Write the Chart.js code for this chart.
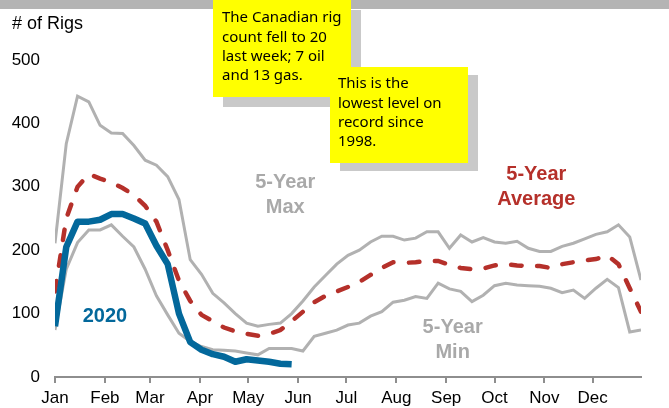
<!DOCTYPE html>
<html>
<head>
<meta charset="utf-8">
<script src="https://cdn.jsdelivr.net/npm/chart.js@4/dist/chart.umd.min.js"></script>
<style>
  html, body { margin: 0; padding: 0; background: #ffffff; }
  canvas { display: block; }
</style>
</head>
<body>
<canvas id="rigs" width="669" height="408"></canvas>
<script>
// Canadian rig count, weekly (Jan through Dec)
const monthLabels = ['Jan', 'Feb', 'Mar', 'Apr', 'May', 'Jun', 'Jul', 'Aug', 'Sep', 'Oct', 'Nov', 'Dec'];
const monthStartDays = [0, 31, 59, 90, 120, 151, 181, 212, 243, 273, 304, 334];
const yTickValues = [0, 100, 200, 300, 400, 500];

const fiveYearMax = [211, 368, 443, 434, 397, 385, 384, 365, 342, 334, 316, 280, 185, 162, 132, 117, 100, 85, 80, 83,
  85, 100, 120, 142, 160, 178, 192, 200, 213, 222, 222, 216, 219, 229, 229, 203, 224, 213, 220, 213,
  211, 214, 203, 198, 198, 206, 211, 218, 225, 229, 240, 221, 153];

const fiveYearMin = [74, 170, 212, 232, 232, 240, 222, 205, 170, 128, 98, 69, 56, 48, 43, 42, 41, 38, 35, 45,
  45, 45, 41, 64, 69, 74, 82, 85, 96, 103, 118, 121, 127, 124, 148, 139, 135, 119, 129, 144,
  148, 145, 144, 143, 140, 133, 137, 124, 140, 154, 141, 71, 74];

const fiveYearAvg = [135, 250, 300, 320, 313, 307, 298, 287, 270, 245, 200, 152, 120, 98, 88, 78, 72, 68, 65, 68,
  74, 88, 103, 118, 128, 135, 142, 150, 161, 172, 181, 180, 181, 183, 183, 177, 172, 170, 171, 176,
  178, 176, 175, 175, 172, 178, 181, 184, 186, 192, 178, 140, 103];

const rigs2020 = [80, 205, 245, 245, 248, 257, 257, 250, 242, 207, 178, 100, 55, 43, 36, 32, 24, 28, 26, 24, 21, 20];

const noteOne = ['The Canadian rig', 'count fell to 20', 'last week; 7 oil', 'and 13 gas.'];
const noteTwo = ['This is the', 'lowest level on', 'record since', '1998.'];

// weekly points sit 7 days apart starting on Jan 1
const toPoints = arr => arr.map((v, i) => ({ x: i * 7, y: v }));

const GRAY = '#b1b1b1';
const RED = '#b5302a';
const BLUE = '#03689b';
const LABEL_GRAY = '#a9a9a9';

const decorations = {
  id: 'decorations',
  beforeDraw(chart) {
    const ctx = chart.ctx;
    ctx.save();
    ctx.fillStyle = '#ffffff';
    ctx.fillRect(0, 0, chart.width, chart.height);
    // header band
    ctx.fillStyle = '#b4b4b4';
    ctx.fillRect(0, 0, chart.width, 9);
    // axis caption
    ctx.fillStyle = '#000000';
    ctx.font = '18px "Liberation Sans", Arial, sans-serif';
    ctx.textBaseline = 'middle';
    ctx.textAlign = 'left';
    ctx.fillText('# of Rigs', 12, 24);
    ctx.restore();
  },
  afterDatasetsDraw(chart) {
    const ctx = chart.ctx;
    const xs = chart.scales.x, ys = chart.scales.y;
    ctx.save();

    // series labels placed in data coordinates
    const seriesLabel = (lines, day, value, color) => {
      const cx = xs.getPixelForValue(day);
      const cy = ys.getPixelForValue(value);
      ctx.fillStyle = color;
      ctx.font = 'bold 20px "Liberation Sans", Arial, sans-serif';
      ctx.textAlign = 'center';
      ctx.textBaseline = 'middle';
      const lh = 25;
      const start = cy - (lines.length - 1) * lh / 2;
      lines.forEach((t, k) => ctx.fillText(t, cx, start + k * lh));
    };
    seriesLabel(['5-Year', 'Max'], 143, 287, LABEL_GRAY);
    seriesLabel(['5-Year', 'Average'], 299, 299, RED);
    seriesLabel(['5-Year', 'Min'], 247, 58, LABEL_GRAY);
    seriesLabel(['2020'], 31, 95, BLUE);

    // call-out notes
    const note = (lines, x, y, w, h, dx, dy, textX, firstY) => {
      ctx.fillStyle = '#c9c9c9';
      ctx.fillRect(x + dx, y + dy, w, h);
      ctx.fillStyle = '#ffff00';
      ctx.fillRect(x, y, w, h);
      ctx.fillStyle = '#000000';
      ctx.font = '15px "Comic Sans MS", "Noto Sans", sans-serif';
      ctx.textAlign = 'left';
      ctx.textBaseline = 'middle';
      lines.forEach((t, k) => ctx.fillText(t, textX, firstY + k * 19.3));
    };
    note(noteOne, 213, 0, 138, 97, 10, 10, 222, 18);
    note(noteTwo, 330, 67, 138, 96, 10, 8, 338, 84);

    ctx.restore();
  }
};

new Chart(document.getElementById('rigs'), {
  type: 'line',
  data: {
    datasets: [
      { label: '2020', data: toPoints(rigs2020), borderColor: BLUE, borderWidth: 6.5,
        borderJoinStyle: 'round', borderCapStyle: 'butt', order: 0 },
      { label: '5-Year Average', data: toPoints(fiveYearAvg), borderColor: RED, borderWidth: 4.5,
        borderDash: [10.5, 15.5], borderCapStyle: 'round', order: 1 },
      { label: '5-Year Min', data: toPoints(fiveYearMin), borderColor: GRAY, borderWidth: 3, order: 2 },
      { label: '5-Year Max', data: toPoints(fiveYearMax), borderColor: GRAY, borderWidth: 3, order: 3 }
    ]
  },
  options: {
    responsive: false,
    animation: false,
    devicePixelRatio: 1,
    layout: { padding: { top: 60, right: 28, bottom: 0, left: 0 } },
    elements: { point: { radius: 0 }, line: { tension: 0, fill: false } },
    plugins: { legend: { display: false }, tooltip: { enabled: false }, title: { display: false } },
    scales: {
      x: {
        type: 'linear',
        min: 0,
        max: 364,
        afterBuildTicks: scale => { scale.ticks = monthStartDays.map(d => ({ value: d })); },
        afterFit: scale => { scale.height = 31; },
        ticks: {
          autoSkip: false,
          maxRotation: 0,
          padding: 5,
          color: '#000000',
          font: { family: '"Liberation Sans", Arial, sans-serif', size: 17 },
          callback: (value) => monthLabels[monthStartDays.indexOf(value)]
        },
        grid: { drawOnChartArea: false, drawTicks: true, tickLength: 6, color: '#8e8e8e', lineWidth: 2 },
        border: { display: true, color: '#8e8e8e', width: 2 }
      },
      y: {
        min: 0,
        max: 500,
        afterBuildTicks: scale => { scale.ticks = yTickValues.map(v => ({ value: v })); },
        afterFit: scale => { scale.width = 55; },
        ticks: {
          padding: 15,
          color: '#000000',
          font: { family: '"Liberation Sans", Arial, sans-serif', size: 17 }
        },
        grid: { display: false, drawTicks: false },
        border: { display: false }
      }
    }
  },
  plugins: [decorations]
});
</script>
</body>
</html>
